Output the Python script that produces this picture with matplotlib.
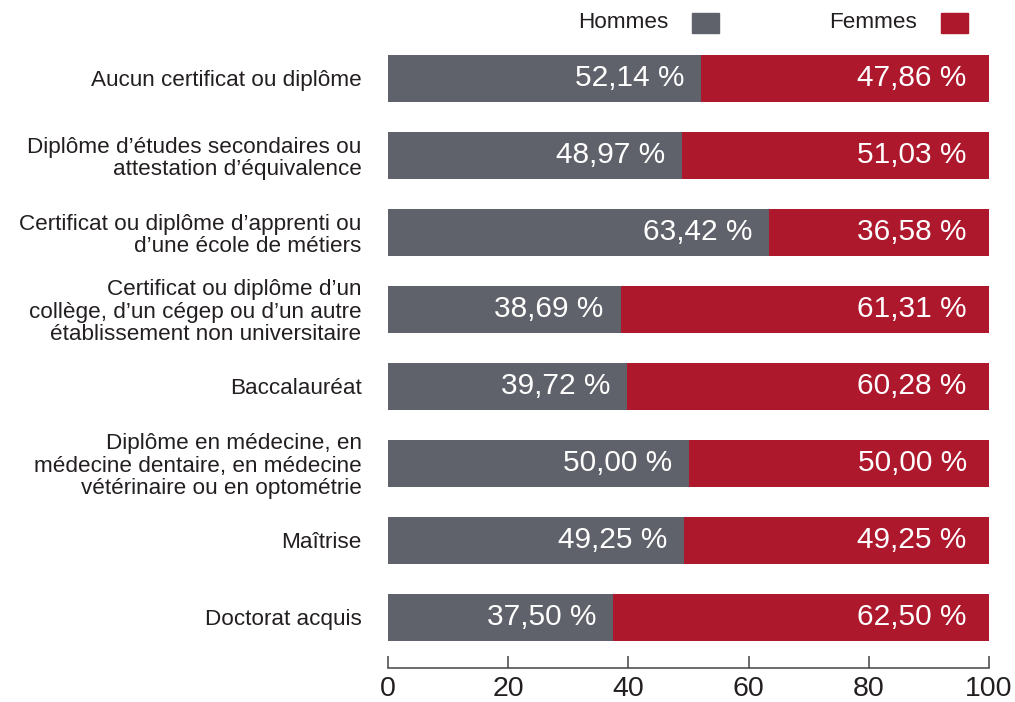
import matplotlib
matplotlib.use("Agg")
import matplotlib.pyplot as plt
from matplotlib.patches import Rectangle

plt.rcParams['font.family'] = ['Liberation Sans', 'DejaVu Sans']

categories = [
    "Aucun certificat ou diplôme",
    "Diplôme d’études secondaires ou\nattestation d’équivalence",
    "Certificat ou diplôme d’apprenti ou\nd’une école de métiers",
    "Certificat ou diplôme d’un\ncollège, d’un cégep ou d’un autre\nétablissement non universitaire",
    "Baccalauréat",
    "Diplôme en médecine, en\nmédecine dentaire, en médecine\nvétérinaire ou en optométrie",
    "Maîtrise",
    "Doctorat acquis",
]
hommes = [52.14, 48.97, 63.42, 38.69, 39.72, 50.00, 49.25, 37.50]
femmes = [47.86, 51.03, 36.58, 61.31, 60.28, 50.00, 50.75, 62.50]
hommes_txt = ["52,14 %", "48,97 %", "63,42 %", "38,69 %", "39,72 %", "50,00 %", "49,25 %", "37,50 %"]
femmes_txt = ["47,86 %", "51,03 %", "36,58 %", "61,31 %", "60,28 %", "50,00 %", "49,25 %", "62,50 %"]
series_names = ["Hommes", "Femmes"]
xticks = [0, 20, 40, 60, 80, 100]

GRAY = "#5f626a"
RED = "#ad182d"
TXT = "#231f20"

W, H = 1015, 702
fig = plt.figure(figsize=(W / 100, H / 100), dpi=100)
ax = fig.add_axes([388 / W, 34 / H, (989 - 388) / W, (662.5 - 34) / H])

y = list(range(len(categories)))
bh = 0.61
ax.barh(y, hommes, height=bh, color=GRAY, linewidth=0)
ax.barh(y, femmes, left=hommes, height=bh, color=RED, linewidth=0)

for i in y:
    ax.annotate(hommes_txt[i], (hommes[i], i), xytext=(-12, 0), textcoords="offset points",
                ha="right", va="center", color="white", fontsize=21.5)
    ax.annotate(femmes_txt[i], (hommes[i] + femmes[i], i), xytext=(-16, 0), textcoords="offset points",
                ha="right", va="center", color="white", fontsize=21.5)

ax.set_xlim(0, 100)
ax.set_ylim(7.66, -0.5)
ax.set_yticks(y)
ax.set_yticklabels(categories, fontsize=16.2, color=TXT, linespacing=1.08)
ax.tick_params(axis="y", length=0, pad=19)
ax.set_xticks(xticks)
ax.set_xticklabels([str(v) for v in xticks], fontsize=20.5, color=TXT)
ax.tick_params(axis="x", direction="in", length=9, width=1.1, color="#444444", pad=6)
for s in ["top", "right", "left"]:
    ax.spines[s].set_visible(False)
ax.spines["bottom"].set_color("#444444")
ax.spines["bottom"].set_linewidth(1.1)

# legend
leg = [(series_names[0], GRAY, 668, 692), (series_names[1], RED, 917, 941)]
for name, col, tx, rx in leg:
    fig.text(tx / W, 1 - 22 / H, name, ha="right", va="center", fontsize=16.2, color=TXT)
    fig.patches.append(Rectangle((rx / W, 1 - 33 / H), 27 / W, 20 / H,
                                 transform=fig.transFigure, color=col, figure=fig))

fig.savefig("out.png", dpi=100)
